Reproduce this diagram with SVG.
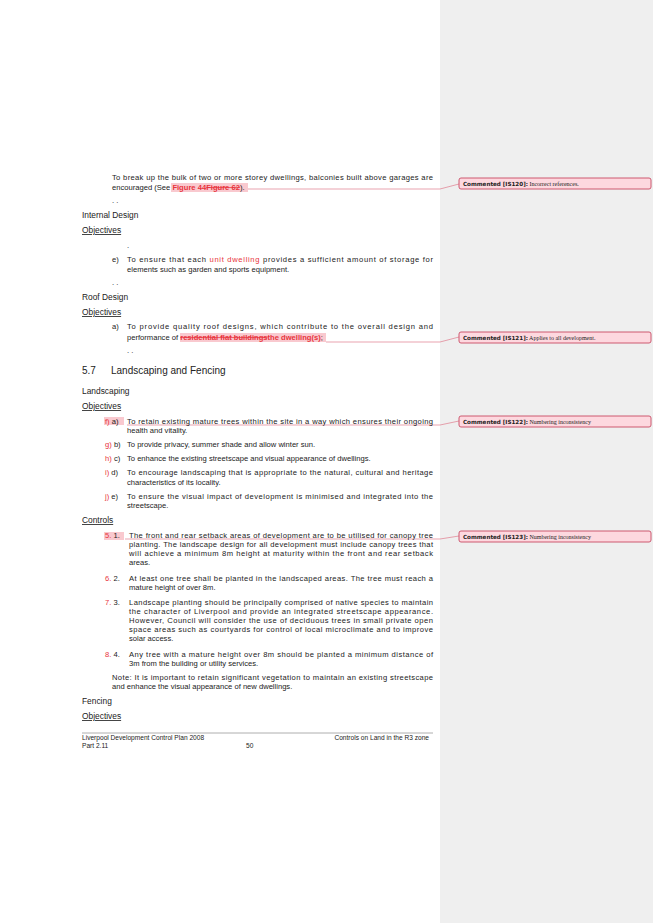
<svg xmlns="http://www.w3.org/2000/svg" width="653" height="923" viewBox="0 0 653 923">
<style>
text{font-family:"Liberation Sans",Arial,sans-serif;font-size:7.6px;fill:#222}
text.h{font-size:8.4px}
text.big{font-size:10px}
text.f{font-size:6.6px}
.u{text-decoration:underline}
.r{fill:#e8343c}
.hl{fill:#f9c9cf}
.cb{fill:#fdd8df;stroke:#c84a63;stroke-width:0.9}
text.ct{font-family:"Liberation Serif",serif;font-size:6px;fill:#222}
.cl{fill:none;stroke:#e07b8c;stroke-width:0.7}
</style>
<rect width="653" height="923" fill="#fff"/>
<rect x="440" y="0" width="213" height="923" fill="#efefef"/>
<g id="connectors">
<polyline class="cl" points="248,189 440,189 459,184"/>
<polyline class="cl" points="326,342 440,342 459,337"/>
<polyline class="cl" points="127,425 440,425 459,421"/>
<polyline class="cl" points="125,539 440,539 459,536"/>
</g>
<g id="comments">
<g id="c120"><rect class="cb" x="459" y="178" width="192" height="11" rx="2"/><text class="ct" x="463" y="186"><tspan font-family="DejaVu Sans" font-weight="bold" font-size="5.6">Commented [IS120]:</tspan> Incorrect references.</text></g>
<g id="c121"><rect class="cb" x="459" y="332" width="192" height="11" rx="2"/><text class="ct" x="463" y="340"><tspan font-family="DejaVu Sans" font-weight="bold" font-size="5.6">Commented [IS121]:</tspan> Applies to all development.</text></g>
<g id="c122"><rect class="cb" x="459" y="416" width="192" height="11" rx="2"/><text class="ct" x="463" y="424"><tspan font-family="DejaVu Sans" font-weight="bold" font-size="5.6">Commented [IS122]:</tspan> Numbering inconsistency</text></g>
<g id="c123"><rect class="cb" x="459" y="531" width="192" height="11" rx="2"/><text class="ct" x="463" y="539"><tspan font-family="DejaVu Sans" font-weight="bold" font-size="5.6">Commented [IS123]:</tspan> Numbering inconsistency</text></g>
</g>
<g id="body">
<text x="112" y="180" textLength="321" lengthAdjust="spacing">To break up the bulk of two or more storey dwellings, balconies built above garages are</text>
<rect class="hl" x="171" y="183" width="77" height="9"/>
<text x="112" y="190">encouraged (See <tspan class="r" font-weight="bold">Figure 44<tspan text-decoration="line-through">Figure 62</tspan></tspan>).</text>
<text x="112" y="203">. .</text>
<text class="h" x="82" y="218">Internal Design</text>
<text class="h u" x="82" y="233">Objectives</text>
<text x="127" y="248">.</text>
<text x="112" y="262">e)</text>
<text x="127" y="262" textLength="306" lengthAdjust="spacing">To ensure that each <tspan class="r">unit dwelling</tspan> provides a sufficient amount of storage for</text>
<text x="127" y="272">elements such as garden and sports equipment.</text>
<text x="112" y="285">. .</text>
<text class="h" x="82" y="300">Roof Design</text>
<text class="h u" x="82" y="315">Objectives</text>
<text x="112" y="329">a)</text>
<text x="127" y="329" textLength="306" lengthAdjust="spacing">To provide quality roof designs, which contribute to the overall design and</text>
<rect class="hl" x="180" y="333" width="146" height="9"/>
<text x="127" y="340">performance of <tspan class="r" font-weight="bold"><tspan text-decoration="line-through">residential flat buildings</tspan>the dwelling(s)</tspan>;</text>
<text x="127" y="353">. .</text>
<text class="big" x="82" y="374">5.7</text>
<text class="big" x="111" y="374">Landscaping and Fencing</text>
<text class="h" x="82" y="394">Landscaping</text>
<text class="h u" x="82" y="409">Objectives</text>
<rect class="hl" x="104" y="417" width="20" height="8"/>
<text x="105" y="424"><tspan class="r">f) </tspan>a)</text>
<text x="127" y="424" textLength="306" lengthAdjust="spacing">To retain existing mature trees within the site in a way which ensures their ongoing</text>
<text x="127" y="433">health and vitality.</text>
<text x="105" y="447"><tspan class="r">g) </tspan>b)</text>
<text x="127" y="447">To provide privacy, summer shade and allow winter sun.</text>
<text x="105" y="461"><tspan class="r">h) </tspan>c)</text>
<text x="127" y="461">To enhance the existing streetscape and visual appearance of dwellings.</text>
<text x="105" y="475"><tspan class="r">i) </tspan>d)</text>
<text x="127" y="475" textLength="306" lengthAdjust="spacing">To encourage landscaping that is appropriate to the natural, cultural and heritage</text>
<text x="127" y="485">characteristics of its locality.</text>
<text x="105" y="499"><tspan class="r">j) </tspan>e)</text>
<text x="127" y="499" textLength="306" lengthAdjust="spacing">To ensure the visual impact of development is minimised and integrated into the</text>
<text x="127" y="508">streetscape.</text>
<text class="h u" x="82" y="523">Controls</text>
<rect class="hl" x="104" y="532" width="20" height="8"/>
<text x="105" y="538"><tspan class="r">5. </tspan>1.</text>
<text x="129" y="538" textLength="304" lengthAdjust="spacing">The front and rear setback areas of development are to be utilised for canopy tree</text>
<text x="129" y="547" textLength="304" lengthAdjust="spacing">planting.  The landscape design for all development must include canopy trees that</text>
<text x="129" y="556" textLength="304" lengthAdjust="spacing">will achieve a minimum 8m height at maturity within the front and rear setback</text>
<text x="129" y="565">areas.</text>
<text x="105" y="581"><tspan class="r">6. </tspan>2.</text>
<text x="129" y="581" textLength="304" lengthAdjust="spacing">At least one tree shall be planted in the landscaped areas. The tree must reach a</text>
<text x="129" y="590">mature height of over 8m.</text>
<text x="105" y="605"><tspan class="r">7. </tspan>3.</text>
<text x="129" y="605" textLength="304" lengthAdjust="spacing">Landscape planting should be principally comprised of native species to maintain</text>
<text x="129" y="614" textLength="304" lengthAdjust="spacing">the character of Liverpool and provide an integrated streetscape appearance.</text>
<text x="129" y="623" textLength="304" lengthAdjust="spacing">However, Council will consider the use of deciduous trees in small private open</text>
<text x="129" y="632" textLength="304" lengthAdjust="spacing">space areas such as courtyards for control of local microclimate and to improve</text>
<text x="129" y="641">solar access.</text>
<text x="105" y="657"><tspan class="r">8. </tspan>4.</text>
<text x="129" y="657" textLength="304" lengthAdjust="spacing">Any tree with a mature height over 8m should be planted a minimum distance of</text>
<text x="129" y="666">3m from the building or utility services.</text>
<text x="112" y="680" textLength="321" lengthAdjust="spacing">Note: It is important to retain significant vegetation to maintain an existing streetscape</text>
<text x="112" y="689">and enhance the visual appearance of new dwellings.</text>
<text class="h" x="82" y="704">Fencing</text>
<text class="h u" x="82" y="719">Objectives</text>
<line x1="82" y1="733" x2="433" y2="733" stroke="#999" stroke-width="0.8"/>
<text class="f" x="82" y="740">Liverpool Development Control Plan 2008</text>
<text class="f" x="82" y="748">Part 2.11</text>
<text class="f" x="246" y="748">50</text>
<text class="f" x="429" y="740" text-anchor="end">Controls on Land in the R3 zone</text>
</g>
</svg>
